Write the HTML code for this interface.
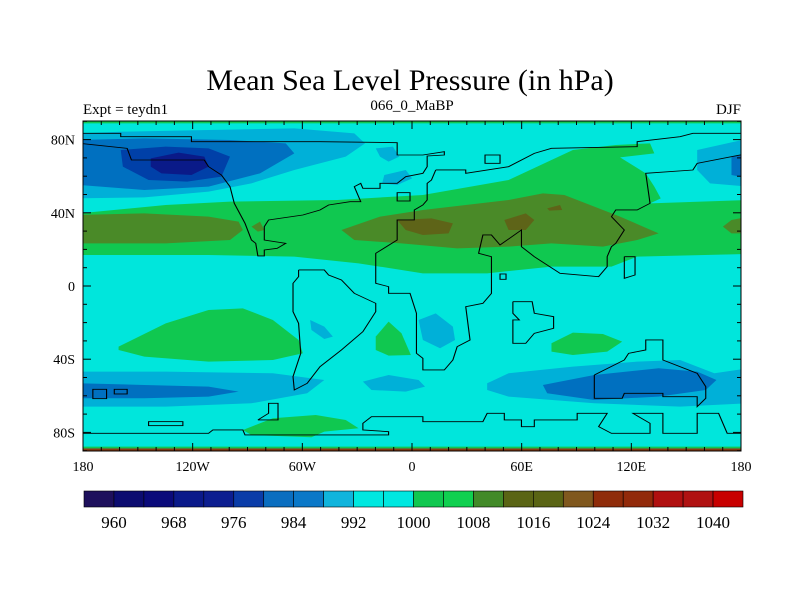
<!DOCTYPE html>
<html><head><meta charset="utf-8"><style>
body{margin:0;background:#fff;}
svg{display:block;font-family:"Liberation Serif",serif;}
</style></head><body>
<svg width="800" height="600" viewBox="0 0 800 600">
<defs><clipPath id="mc"><rect x="83" y="121" width="658" height="330"/></clipPath></defs>
<text x="410" y="90" font-size="30" text-anchor="middle">Mean Sea Level Pressure (in hPa)</text>
<text x="83" y="114" font-size="15">Expt = teydn1</text>
<text x="412" y="110" font-size="15" text-anchor="middle">066_0_MaBP</text>
<text x="741" y="114" font-size="15" text-anchor="end">DJF</text>
<g clip-path="url(#mc)">
<rect x="83" y="121" width="658" height="330" fill="#00e6dc"/>
<g transform="translate(80,120) scale(0.4286,0.3333)">
<rect x="0" y="0" width="1560" height="10" fill="#10c850"/>
<rect x="0" y="985" width="1560" height="10" fill="#8a3a10"/>
<rect x="0" y="980" width="1560" height="5" fill="#10c850"/>
<polygon fill="#00b0d8" points="0,40 100,35 300,30 500,25 640,40 665,70 620,110 500,150 400,190 300,215 150,232 0,235"/>
<polygon fill="#0070c0" points="0,60 150,55 350,60 480,70 500,100 420,160 300,200 150,210 0,195"/>
<polygon fill="#0040a8" points="95,90 200,80 300,85 350,110 330,170 250,185 160,180 100,140"/>
<polygon fill="#0a1a88" points="165,115 230,98 290,110 300,140 260,165 190,160 165,140"/>
<polygon fill="#00b0d8" points="1440,90 1545,60 1560,60 1560,200 1470,190 1440,150"/>
<polygon fill="#0070c0" points="1520,110 1560,100 1560,175 1520,165"/>
<polygon fill="#00b0d8" points="690,85 730,80 745,110 720,125 700,110"/>
<polygon fill="#00b0d8" points="710,165 760,150 775,175 740,195 705,190"/>
<polygon fill="#10c850" points="0,280 200,255 350,245 600,240 800,225 1000,180 1050,150 1150,90 1250,75 1330,70 1340,100 1260,112 1320,160 1340,200 1355,235 1330,250 1560,240 1560,402 1300,410 1240,440 1100,440 950,460 800,460 650,430 500,410 300,405 0,405"/>
<polygon fill="#4a8a28" points="0,285 150,280 300,290 370,305 380,330 350,360 200,370 0,370"/>
<polygon fill="#4a8a28" points="400,320 420,305 430,330 415,335"/>
<polygon fill="#4a8a28" points="1560,290 1520,300 1500,320 1520,340 1560,340"/>
<polygon fill="#4a8a28" points="610,330 700,290 800,270 900,255 1000,240 1080,220 1130,225 1200,260 1260,290 1350,340 1300,360 1220,380 1100,370 1000,380 880,385 750,370 640,360"/>
<polygon fill="#5e6418" points="740,300 820,295 870,310 860,340 800,345 760,330"/>
<polygon fill="#5e6418" points="990,300 1040,280 1060,300 1040,330 1000,330"/>
<polygon fill="#5e6418" points="1090,265 1120,255 1125,270 1095,272"/>
<polygon fill="#10c850" points="90,680 200,610 300,570 380,565 450,600 510,660 520,700 450,720 300,725 150,710 90,690"/>
<polygon fill="#10c850" points="690,650 720,605 750,640 772,705 720,707 690,690"/>
<polygon fill="#10c850" points="1100,670 1150,638 1220,642 1265,665 1230,695 1150,705 1100,695"/>
<polygon fill="#10c850" points="380,930 450,895 550,885 620,900 650,925 570,935 540,952 400,945"/>
<polygon fill="#00b0d8" points="0,755 200,755 450,760 570,780 530,820 400,850 200,860 0,860"/>
<polygon fill="#0070c0" points="0,790 150,795 300,800 370,815 300,830 150,835 0,835"/>
<polygon fill="#00b0d8" points="660,785 720,765 790,780 805,800 760,815 680,810"/>
<polygon fill="#00b0d8" points="537,600 570,620 590,650 570,657 540,630"/>
<polygon fill="#00b0d8" points="790,600 830,580 870,620 875,660 840,685 800,660"/>
<polygon fill="#00b0d8" points="950,790 1000,760 1150,740 1300,725 1400,720 1480,760 1560,745 1560,850 1400,860 1200,850 1000,830 950,810"/>
<polygon fill="#0070c0" points="1080,795 1200,765 1350,745 1440,755 1485,780 1460,810 1350,830 1200,840 1090,820"/>
<g fill="none" stroke="#000" stroke-width="2.6">
<polyline points="0,40 95,40 95,50 260,50 260,65 560,65 740,68 740,105 800,105 850,95 850,105 810,108 810,140 800,160 760,170 740,190 700,190 700,205 660,205 655,190 640,200 655,245 630,245 580,255 560,270 520,285 440,300 430,320 430,360 480,370 460,385 430,390 430,408 415,408 410,370 400,360 385,310 360,250 350,200 330,165 300,140 290,120 120,120 110,85 0,70"/>
<polyline points="830,150 900,150 900,160 1000,140 1060,100 1100,85 1300,80 1300,65 1400,50 1430,40 1560,40"/>
<polyline points="1560,100 1440,130 1430,150 1320,160 1330,250 1300,270 1250,270 1240,290 1270,330 1250,370 1240,380 1230,410 1230,440 1210,470 1120,460 1060,410 1030,380 1030,330 980,375 960,345 940,345 930,400 960,410 960,520 940,550 900,560 910,660 880,680 870,720 850,750 800,750 800,715 785,700 785,580 770,520 720,520 720,500 690,490 690,400 740,360 740,300 780,300 780,270 800,255 810,240 810,190 820,180 830,150"/>
<polyline points="510,450 570,450 580,465 610,480 640,520 690,550 690,575 660,635 610,690 560,740 530,790 500,810 497,770 515,700 510,610 497,575 497,490 510,470 510,450"/>
<polyline points="1200,765 1270,720 1280,700 1320,690 1320,660 1360,660 1360,720 1440,760 1460,800 1460,835 1440,860 1440,830 1360,830 1360,820 1270,820 1265,835 1200,835 1200,765"/>
<polyline points="1010,545 1055,545 1060,580 1105,590 1105,625 1060,640 1040,670 1010,670 1010,600 1025,600 1010,580 1010,545"/>
<polyline points="1270,410 1295,410 1295,465 1270,475 1270,410"/>
<polyline points="0,940 300,940 310,930 380,930 385,945 720,945 720,935 660,930 660,910 680,890 800,890 800,905 940,905 950,880 990,880 990,900 1030,900 1030,920 1060,920 1060,900 1160,900 1160,880 1230,880 1210,920 1240,940 1330,940 1330,910 1290,880 1360,880 1360,940 1440,940 1440,880 1490,880 1510,940 1560,940"/>
<polyline points="415,900 440,880 440,850 462,850 462,900 415,900"/>
<rect x="160" y="905" width="80" height="12"/>
<rect x="30" y="808" width="32" height="28"/>
<rect x="80" y="808" width="30" height="14"/>
<rect x="945" y="105" width="35" height="25"/>
<rect x="740" y="218" width="30" height="25"/>
<rect x="980" y="462" width="14" height="16"/>
</g>
</g>
</g>
<rect x="83" y="121" width="658" height="330" fill="none" stroke="#000" stroke-width="1"/>
<g id="ticks" stroke="#000" stroke-width="1"></g>
<g id="labels" font-size="14"></g>
<g id="cbar"></g>
<script>
const lonTicks=[-180,-120,-60,0,60,120,180];
const lonLabels=["180","120W","60W","0","60E","120E","180"];
const latTicks=[80,40,0,-40,-80];
const latLabels=["80N","40N","0","40S","80S"];
const levels=[960,968,976,984,992,1000,1008,1016,1024,1032,1040];
const colors=["#1e105c","#0c0c70","#0a0a7a","#0a1a8a","#0c1e90","#0a3ca8","#0a6ec0","#0a78c8","#10b4dc","#00e8e0","#00e8e0","#10c850","#10d050","#428a28","#5a6414","#5a6414","#80581e","#8f2c0a","#922a0a","#b01010","#b01212","#c80000"];
const NS="http://www.w3.org/2000/svg";
const X=lon=>83+(lon+180)*658/360, Y=lat=>286-lat*1.83;
const tk=document.getElementById('ticks'), lb=document.getElementById('labels'), cb=document.getElementById('cbar');
function ln(x1,y1,x2,y2){const l=document.createElementNS(NS,'line');l.setAttribute('x1',x1);l.setAttribute('y1',y1);l.setAttribute('x2',x2);l.setAttribute('y2',y2);


tk.appendChild(l);}
for(let lon=-180;lon<=180;lon+=10){const m=lon%60===0?8:4;const x=X(lon);ln(x,451,x,451-m);ln(x,121,x,121+m);}
for(let lat=-90;lat<=90;lat+=10){const m=lat%40===0?8:4;const y=Y(lat);ln(83,y,83+m,y);ln(741,y,741-m,y);}
lonTicks.forEach((v,i)=>{const t=document.createElementNS(NS,'text');t.setAttribute('x',X(v));t.setAttribute('y',471);t.setAttribute('text-anchor','middle');t.textContent=lonLabels[i];


lb.appendChild(t);});
latTicks.forEach((v,i)=>{const t=document.createElementNS(NS,'text');t.setAttribute('x',75);t.setAttribute('y',Y(v)+5);t.setAttribute('text-anchor','end');t.textContent=latLabels[i];


lb.appendChild(t);});
const cx0=84,cw=(743-84)/colors.length,cy=491,ch=16;
colors.forEach((c,i)=>{const r=document.createElementNS(NS,'rect');r.setAttribute('x',cx0+i*cw);r.setAttribute('y',cy);r.setAttribute('width',cw);r.setAttribute('height',ch);r.setAttribute('fill',c);r.setAttribute('stroke','#000');r.setAttribute('stroke-width','0.6');


cb.appendChild(r);});
levels.forEach((v,i)=>{const t=document.createElementNS(NS,'text');t.setAttribute('x',cx0+(2*i+1)*cw);t.setAttribute('y',528);t.setAttribute('text-anchor','middle');t.setAttribute('font-size','17');t.textContent=v;


cb.appendChild(t);});
</script>
</svg>
</body></html>
